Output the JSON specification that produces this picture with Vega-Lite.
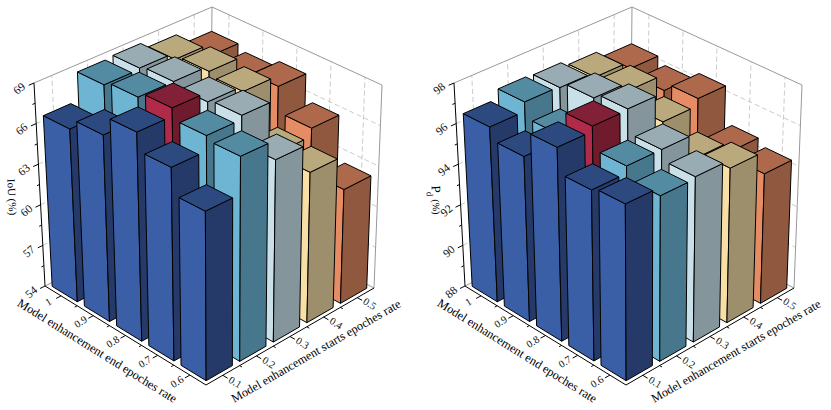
{"$schema":"https://vega.github.io/schema/vega-lite/v6.json","width":831,"height":410,"padding":0,"autosize":{"type":"fit","contains":"padding"},"background":"white","config":{"view":{"stroke":null}},
"datasets":{
"bars":[
{"panel":"IoU","end":1,"start":0.5,"value":67.4},{"panel":"IoU","end":1,"start":0.4,"value":68.3},{"panel":"IoU","end":1,"start":0.3,"value":68.8},{"panel":"IoU","end":1,"start":0.2,"value":68.7},{"panel":"IoU","end":1,"start":0.1,"value":66.6},
{"panel":"IoU","end":0.9,"start":0.5,"value":67},{"panel":"IoU","end":0.9,"start":0.4,"value":68.6},{"panel":"IoU","end":0.9,"start":0.3,"value":69},{"panel":"IoU","end":0.9,"start":0.2,"value":69},{"panel":"IoU","end":0.9,"start":0.1,"value":67.4},
{"panel":"IoU","end":0.8,"start":0.5,"value":67.5},{"panel":"IoU","end":0.8,"start":0.4,"value":68.3},{"panel":"IoU","end":0.8,"start":0.3,"value":68.7},{"panel":"IoU","end":0.8,"start":0.2,"value":69.4,"best":true},{"panel":"IoU","end":0.8,"start":0.1,"value":68.8},
{"panel":"IoU","end":0.7,"start":0.5,"value":65.6},{"panel":"IoU","end":0.7,"start":0.4,"value":65},{"panel":"IoU","end":0.7,"start":0.3,"value":68.9},{"panel":"IoU","end":0.7,"start":0.2,"value":68.6},{"panel":"IoU","end":0.7,"start":0.1,"value":67.5},
{"panel":"IoU","end":0.6,"start":0.5,"value":62.3},{"panel":"IoU","end":0.6,"start":0.4,"value":64.8},{"panel":"IoU","end":0.6,"start":0.3,"value":66.9},{"panel":"IoU","end":0.6,"start":0.2,"value":68.3},{"panel":"IoU","end":0.6,"start":0.1,"value":65.65},
{"panel":"Pd","end":1,"start":0.5,"value":96.3},{"panel":"Pd","end":1,"start":0.4,"value":96.65},{"panel":"Pd","end":1,"start":0.3,"value":96.9},{"panel":"Pd","end":1,"start":0.2,"value":96.96},{"panel":"Pd","end":1,"start":0.1,"value":96.5},
{"panel":"Pd","end":0.9,"start":0.5,"value":96},{"panel":"Pd","end":0.9,"start":0.4,"value":96.8},{"panel":"Pd","end":0.9,"start":0.3,"value":97.2},{"panel":"Pd","end":0.9,"start":0.2,"value":96.2},{"panel":"Pd","end":0.9,"start":0.1,"value":95.9},
{"panel":"Pd","end":0.8,"start":0.5,"value":96.4},{"panel":"Pd","end":0.8,"start":0.4,"value":96.05},{"panel":"Pd","end":0.8,"start":0.3,"value":97.46},{"panel":"Pd","end":0.8,"start":0.2,"value":97.4,"best":true},{"panel":"Pd","end":0.8,"start":0.1,"value":97.15},
{"panel":"Pd","end":0.7,"start":0.5,"value":94.6},{"panel":"Pd","end":0.7,"start":0.4,"value":95.1},{"panel":"Pd","end":0.7,"start":0.3,"value":96.3},{"panel":"Pd","end":0.7,"start":0.2,"value":96.3},{"panel":"Pd","end":0.7,"start":0.1,"value":95.95},
{"panel":"Pd","end":0.6,"start":0.5,"value":94.3},{"panel":"Pd","end":0.6,"start":0.4,"value":95.4},{"panel":"Pd","end":0.6,"start":0.3,"value":95.8},{"panel":"Pd","end":0.6,"start":0.2,"value":95.7},{"panel":"Pd","end":0.6,"start":0.1,"value":96.1}
],
"guides":[
{"id":"gz2","kind":"grid","A":[0,0,1],"B":[0,1,1],"Z":[0.2,0.2,0.2]},{"id":"gz4","kind":"grid","A":[0,0,1],"B":[0,1,1],"Z":[0.4,0.4,0.4]},{"id":"gz6","kind":"grid","A":[0,0,1],"B":[0,1,1],"Z":[0.6,0.6,0.6]},{"id":"gz8","kind":"grid","A":[0,0,1],"B":[0,1,1],"Z":[0.8,0.8,0.8]},
{"id":"gb1","kind":"grid","A":[0,0],"B":[0.1,0.1],"Z":[0,1]},{"id":"gb3","kind":"grid","A":[0,0],"B":[0.3,0.3],"Z":[0,1]},{"id":"gb5","kind":"grid","A":[0,0],"B":[0.5,0.5],"Z":[0,1]},{"id":"gb7","kind":"grid","A":[0,0],"B":[0.7,0.7],"Z":[0,1]},{"id":"gb9","kind":"grid","A":[0,0],"B":[0.9,0.9],"Z":[0,1]},
{"id":"ga1","kind":"grid","A":[0.1,0.1],"B":[1,1],"Z":[0,1]},{"id":"ga3","kind":"grid","A":[0.3,0.3],"B":[1,1],"Z":[0,1]},{"id":"ga5","kind":"grid","A":[0.5,0.5],"B":[1,1],"Z":[0,1]},{"id":"ga7","kind":"grid","A":[0.7,0.7],"B":[1,1],"Z":[0,1]},{"id":"ga9","kind":"grid","A":[0.9,0.9],"B":[1,1],"Z":[0,1]},
{"id":"ftop","kind":"frame","A":[0,0,1],"B":[0,1,1],"Z":[1,1,1]},{"id":"fback","kind":"frame","A":[0,0],"B":[1,1],"Z":[0,1]},{"id":"fright","kind":"frame","A":[1,1],"B":[1,1],"Z":[0,1]},{"id":"ffloor","kind":"frame","A":[0,0,1],"B":[0,1,1],"Z":[0,0,0]},
{"id":"axz","kind":"axis","A":[0,0],"B":[0,0],"Z":[0,1]},{"id":"axf","kind":"axis","A":[0,1,1],"B":[0,0,1],"Z":[0,0,0]},
{"id":"tz0","kind":"axis","A":[0,0],"B":[0,-0.03],"Z":[0,0]},{"id":"tz2","kind":"axis","A":[0,0],"B":[0,-0.03],"Z":[0.2,0.2]},{"id":"tz4","kind":"axis","A":[0,0],"B":[0,-0.03],"Z":[0.4,0.4]},{"id":"tz6","kind":"axis","A":[0,0],"B":[0,-0.03],"Z":[0.6,0.6]},{"id":"tz8","kind":"axis","A":[0,0],"B":[0,-0.03],"Z":[0.8,0.8]},{"id":"tz10","kind":"axis","A":[0,0],"B":[0,-0.03],"Z":[1,1]},
{"id":"mz1","kind":"axis","A":[0,0],"B":[0,-0.015],"Z":[0.1,0.1]},{"id":"mz3","kind":"axis","A":[0,0],"B":[0,-0.015],"Z":[0.3,0.3]},{"id":"mz5","kind":"axis","A":[0,0],"B":[0,-0.015],"Z":[0.5,0.5]},{"id":"mz7","kind":"axis","A":[0,0],"B":[0,-0.015],"Z":[0.7,0.7]},{"id":"mz9","kind":"axis","A":[0,0],"B":[0,-0.015],"Z":[0.9,0.9]},
{"id":"ta1","kind":"axis","A":[0.1,0.1],"B":[0,-0.03],"Z":[0,0]},{"id":"ta3","kind":"axis","A":[0.3,0.3],"B":[0,-0.03],"Z":[0,0]},{"id":"ta5","kind":"axis","A":[0.5,0.5],"B":[0,-0.03],"Z":[0,0]},{"id":"ta7","kind":"axis","A":[0.7,0.7],"B":[0,-0.03],"Z":[0,0]},{"id":"ta9","kind":"axis","A":[0.9,0.9],"B":[0,-0.03],"Z":[0,0]},
{"id":"ma2","kind":"axis","A":[0.2,0.2],"B":[0,-0.015],"Z":[0,0]},{"id":"ma4","kind":"axis","A":[0.4,0.4],"B":[0,-0.015],"Z":[0,0]},{"id":"ma6","kind":"axis","A":[0.6,0.6],"B":[0,-0.015],"Z":[0,0]},{"id":"ma8","kind":"axis","A":[0.8,0.8],"B":[0,-0.015],"Z":[0,0]},
{"id":"tb1","kind":"axis","A":[1,1.03],"B":[0.1,0.1],"Z":[0,0]},{"id":"tb3","kind":"axis","A":[1,1.03],"B":[0.3,0.3],"Z":[0,0]},{"id":"tb5","kind":"axis","A":[1,1.03],"B":[0.5,0.5],"Z":[0,0]},{"id":"tb7","kind":"axis","A":[1,1.03],"B":[0.7,0.7],"Z":[0,0]},{"id":"tb9","kind":"axis","A":[1,1.03],"B":[0.9,0.9],"Z":[0,0]},
{"id":"mb2","kind":"axis","A":[1,1.015],"B":[0.2,0.2],"Z":[0,0]},{"id":"mb4","kind":"axis","A":[1,1.015],"B":[0.4,0.4],"Z":[0,0]},{"id":"mb6","kind":"axis","A":[1,1.015],"B":[0.6,0.6],"Z":[0,0]},{"id":"mb8","kind":"axis","A":[1,1.015],"B":[0.8,0.8],"Z":[0,0]}
],
"zticks":[{"panel":"IoU","tick":54},{"panel":"IoU","tick":57},{"panel":"IoU","tick":60},{"panel":"IoU","tick":63},{"panel":"IoU","tick":66},{"panel":"IoU","tick":69},{"panel":"Pd","tick":88},{"panel":"Pd","tick":90},{"panel":"Pd","tick":92},{"panel":"Pd","tick":94},{"panel":"Pd","tick":96},{"panel":"Pd","tick":98}],
"endticks":[{"tick":1},{"tick":0.9},{"tick":0.8},{"tick":0.7},{"tick":0.6}],
"startticks":[{"tick":0.1},{"tick":0.2},{"tick":0.3},{"tick":0.4},{"tick":0.5}],
"ytitles":[{"panel":"IoU","text":"IoU (%)","role":"whole"},{"panel":"Pd","text":"P","role":"p"},{"panel":"Pd","text":"(%)","role":"pct"}]
},
"encoding":{"x":{"field":"px","type":"quantitative","axis":null,"scale":{"domain":[0,831],"nice":false,"zero":false}},"y":{"field":"py","type":"quantitative","axis":null,"scale":{"domain":[410,0],"nice":false,"zero":false}}},
"layer":[
{"data":{"name":"guides"},"transform":[{"filter":"datum.kind=='grid'"},{"calculate":"[0,420]","as":"dxs"},{"flatten":["dxs"],"as":["dx"]},{"flatten":["A","B","Z"]},{"window":[{"op":"row_number","as":"k"}],"groupby":["id","dx"]},
{"calculate":"datum.dx+(1-datum.Z)*((1-datum.A)*(1-datum.B)*45+datum.A*(1-datum.B)*206+datum.A*datum.B*374+(1-datum.A)*datum.B*210)+datum.Z*((1-datum.A)*(1-datum.B)*34+datum.A*(1-datum.B)*205+datum.A*datum.B*382+(1-datum.A)*datum.B*212)","as":"px"},
{"calculate":"(1-datum.Z)*((1-datum.A)*(1-datum.B)*286+datum.A*(1-datum.B)*385+datum.A*datum.B*288+(1-datum.A)*datum.B*203)+datum.Z*((1-datum.A)*(1-datum.B)*83+datum.A*(1-datum.B)*166+datum.A*datum.B*85+(1-datum.A)*datum.B*7)","as":"py"}],
"mark":{"type":"line","stroke":"#c4c4c4","strokeWidth":0.9,"strokeDash":[5,3],"clip":false},"encoding":{"detail":[{"field":"id"},{"field":"dx"}],"order":{"field":"k"}}},
{"data":{"name":"guides"},"transform":[{"filter":"datum.kind=='frame'"},{"calculate":"[0,420]","as":"dxs"},{"flatten":["dxs"],"as":["dx"]},{"flatten":["A","B","Z"]},{"window":[{"op":"row_number","as":"k"}],"groupby":["id","dx"]},
{"calculate":"datum.dx+(1-datum.Z)*((1-datum.A)*(1-datum.B)*45+datum.A*(1-datum.B)*206+datum.A*datum.B*374+(1-datum.A)*datum.B*210)+datum.Z*((1-datum.A)*(1-datum.B)*34+datum.A*(1-datum.B)*205+datum.A*datum.B*382+(1-datum.A)*datum.B*212)","as":"px"},
{"calculate":"(1-datum.Z)*((1-datum.A)*(1-datum.B)*286+datum.A*(1-datum.B)*385+datum.A*datum.B*288+(1-datum.A)*datum.B*203)+datum.Z*((1-datum.A)*(1-datum.B)*83+datum.A*(1-datum.B)*166+datum.A*datum.B*85+(1-datum.A)*datum.B*7)","as":"py"}],
"mark":{"type":"line","stroke":"#999999","strokeWidth":1},"encoding":{"detail":[{"field":"id"},{"field":"dx"}],"order":{"field":"k"}}},
{"data":{"name":"guides"},"transform":[{"filter":"datum.kind=='axis'"},{"calculate":"[0,420]","as":"dxs"},{"flatten":["dxs"],"as":["dx"]},{"flatten":["A","B","Z"]},{"window":[{"op":"row_number","as":"k"}],"groupby":["id","dx"]},
{"calculate":"datum.dx+(1-datum.Z)*((1-datum.A)*(1-datum.B)*45+datum.A*(1-datum.B)*206+datum.A*datum.B*374+(1-datum.A)*datum.B*210)+datum.Z*((1-datum.A)*(1-datum.B)*34+datum.A*(1-datum.B)*205+datum.A*datum.B*382+(1-datum.A)*datum.B*212)","as":"px"},
{"calculate":"(1-datum.Z)*((1-datum.A)*(1-datum.B)*286+datum.A*(1-datum.B)*385+datum.A*datum.B*288+(1-datum.A)*datum.B*203)+datum.Z*((1-datum.A)*(1-datum.B)*83+datum.A*(1-datum.B)*166+datum.A*datum.B*85+(1-datum.A)*datum.B*7)","as":"py"}],
"mark":{"type":"line","stroke":"#000000","strokeWidth":1},"encoding":{"detail":[{"field":"id"},{"field":"dx"}],"order":{"field":"k"}}},
{"data":{"name":"bars"},"transform":[
{"calculate":"datum.panel=='Pd'?420:0","as":"dx"},
{"calculate":"(1-datum.end)*2+0.1","as":"ac"},{"calculate":"(datum.start-0.1)*2+0.1","as":"bc"},
{"calculate":"datum.panel=='Pd'?(datum.value-88)/10:(datum.value-54)/15","as":"h"},
{"calculate":"[0,1,2]","as":"faces"},{"flatten":["faces"],"as":["face"]},
{"calculate":"[0,1,2,3,4]","as":"ks"},{"flatten":["ks"],"as":["k"]},
{"calculate":"datum.ac+0.078*[[-1,1,1,-1,-1],[1,1,1,1,1],[-1,1,1,-1,-1]][datum.face][datum.k]","as":"A"},
{"calculate":"datum.bc+0.078*[[-1,-1,-1,-1,-1],[-1,1,1,-1,-1],[-1,-1,1,1,-1]][datum.face][datum.k]","as":"B"},
{"calculate":"datum.h*[[0,0,1,1,0],[0,0,1,1,0],[1,1,1,1,1]][datum.face][datum.k]","as":"Z"},
{"calculate":"datum.dx+(1-datum.Z)*((1-datum.A)*(1-datum.B)*45+datum.A*(1-datum.B)*206+datum.A*datum.B*374+(1-datum.A)*datum.B*210)+datum.Z*((1-datum.A)*(1-datum.B)*34+datum.A*(1-datum.B)*205+datum.A*datum.B*382+(1-datum.A)*datum.B*212)","as":"px"},
{"calculate":"(1-datum.Z)*((1-datum.A)*(1-datum.B)*286+datum.A*(1-datum.B)*385+datum.A*datum.B*288+(1-datum.A)*datum.B*203)+datum.Z*((1-datum.A)*(1-datum.B)*83+datum.A*(1-datum.B)*166+datum.A*datum.B*85+(1-datum.A)*datum.B*7)","as":"py"},
{"calculate":"datum.panel+'|'+datum.end+'|'+datum.start+'|'+datum.face","as":"faceId"},
{"calculate":"(datum.best?'best':datum.start)+'-'+datum.face","as":"colorKey"}],
"mark":{"type":"line","stroke":"#000000","strokeWidth":1,"strokeJoin":"round"},
"encoding":{"detail":{"field":"faceId"},"order":{"field":"k"},"fill":{"field":"colorKey","type":"nominal","legend":null,"scale":{"domain":["0.1-0","0.1-1","0.1-2","0.2-0","0.2-1","0.2-2","0.3-0","0.3-1","0.3-2","0.4-0","0.4-1","0.4-2","0.5-0","0.5-1","0.5-2","best-0","best-1","best-2"],"range":["#3B5FA6","#263A69","#2C4A7F","#6DB5D3","#47778C","#538BA3","#C9E0E9","#84959B","#99ABB3","#F8DFA5","#9E8F6C","#BBA97E","#E68C64","#8F583F","#AE684B","#AF2B49","#701A2D","#822037"]}}}},
{"data":{"name":"zticks"},"transform":[{"calculate":"datum.panel=='Pd'?420:0","as":"dx"},{"calculate":"datum.panel=='Pd'?(datum.tick-88)/10:(datum.tick-54)/15","as":"Z"},{"calculate":"0","as":"A"},{"calculate":"-0.08","as":"B"},
{"calculate":"datum.dx+(1-datum.Z)*((1-datum.A)*(1-datum.B)*45+datum.A*(1-datum.B)*206+datum.A*datum.B*374+(1-datum.A)*datum.B*210)+datum.Z*((1-datum.A)*(1-datum.B)*34+datum.A*(1-datum.B)*205+datum.A*datum.B*382+(1-datum.A)*datum.B*212)","as":"px"},
{"calculate":"(1-datum.Z)*((1-datum.A)*(1-datum.B)*286+datum.A*(1-datum.B)*385+datum.A*datum.B*288+(1-datum.A)*datum.B*203)+datum.Z*((1-datum.A)*(1-datum.B)*83+datum.A*(1-datum.B)*166+datum.A*datum.B*85+(1-datum.A)*datum.B*7)","as":"py"}],
"mark":{"type":"text","fontSize":11.5,"font":"Liberation Serif","angle":320,"align":"center","baseline":"middle","color":"#111"},"encoding":{"text":{"field":"tick","type":"nominal"}}},
{"data":{"name":"endticks"},"transform":[{"calculate":"[0,420]","as":"dxs"},{"flatten":["dxs"],"as":["dx"]},{"calculate":"(1-datum.tick)*2+0.1","as":"A"},{"calculate":"-0.075","as":"B"},{"calculate":"0","as":"Z"},
{"calculate":"datum.dx+(1-datum.A)*(1-datum.B)*45+datum.A*(1-datum.B)*206+datum.A*datum.B*374+(1-datum.A)*datum.B*210","as":"px"},
{"calculate":"(1-datum.A)*(1-datum.B)*286+datum.A*(1-datum.B)*385+datum.A*datum.B*288+(1-datum.A)*datum.B*203","as":"py"}],
"mark":{"type":"text","fontSize":10.5,"font":"Liberation Serif","angle":328,"align":"center","baseline":"middle","color":"#111"},"encoding":{"text":{"field":"tick","type":"nominal"}}},
{"data":{"name":"startticks"},"transform":[{"calculate":"[0,420]","as":"dxs"},{"flatten":["dxs"],"as":["dx"]},{"calculate":"1.075","as":"A"},{"calculate":"(datum.tick-0.1)*2+0.1","as":"B"},
{"calculate":"datum.dx+(1-datum.A)*(1-datum.B)*45+datum.A*(1-datum.B)*206+datum.A*datum.B*374+(1-datum.A)*datum.B*210","as":"px"},
{"calculate":"(1-datum.A)*(1-datum.B)*286+datum.A*(1-datum.B)*385+datum.A*datum.B*288+(1-datum.A)*datum.B*203","as":"py"}],
"mark":{"type":"text","fontSize":10.5,"font":"Liberation Serif","angle":32,"align":"center","baseline":"middle","color":"#111"},"encoding":{"text":{"field":"tick","type":"nominal"}}},
{"data":{"values":[{"title":"Model enhancement end epoches rate"}]},"transform":[{"calculate":"[0,420]","as":"dxs"},{"flatten":["dxs"],"as":["dx"]},{"calculate":"0.5","as":"A"},{"calculate":"-0.17","as":"B"},
{"calculate":"datum.dx+(1-datum.A)*(1-datum.B)*45+datum.A*(1-datum.B)*206+datum.A*datum.B*374+(1-datum.A)*datum.B*210","as":"px"},
{"calculate":"(1-datum.A)*(1-datum.B)*286+datum.A*(1-datum.B)*385+datum.A*datum.B*288+(1-datum.A)*datum.B*203","as":"py"}],
"mark":{"type":"text","fontSize":12.3,"font":"Liberation Serif","angle":32,"align":"center","baseline":"middle","color":"#000"},"encoding":{"text":{"field":"title","type":"nominal"}}},
{"data":{"values":[{"title":"Model enhancement starts epoches rate"}]},"transform":[{"calculate":"[0,420]","as":"dxs"},{"flatten":["dxs"],"as":["dx"]},{"calculate":"1.16","as":"A"},{"calculate":"0.5","as":"B"},
{"calculate":"datum.dx+(1-datum.A)*(1-datum.B)*45+datum.A*(1-datum.B)*206+datum.A*datum.B*374+(1-datum.A)*datum.B*210","as":"px"},
{"calculate":"(1-datum.A)*(1-datum.B)*286+datum.A*(1-datum.B)*385+datum.A*datum.B*288+(1-datum.A)*datum.B*203","as":"py"}],
"mark":{"type":"text","fontSize":12.3,"font":"Liberation Serif","angle":330,"align":"center","baseline":"middle","color":"#000"},"encoding":{"text":{"field":"title","type":"nominal"}}},
{"data":{"name":"ytitles"},"transform":[{"calculate":"datum.panel=='Pd'?420:0","as":"dx"},{"calculate":"0","as":"A"},{"calculate":"datum.role=='p'?-0.137:datum.role=='pct'?-0.143:-0.165","as":"B"},{"calculate":"datum.role=='p'?0.531:datum.role=='pct'?0.446:0.503","as":"Z"},
{"calculate":"datum.dx+(1-datum.Z)*((1-datum.A)*(1-datum.B)*45+datum.A*(1-datum.B)*206+datum.A*datum.B*374+(1-datum.A)*datum.B*210)+datum.Z*((1-datum.A)*(1-datum.B)*34+datum.A*(1-datum.B)*205+datum.A*datum.B*382+(1-datum.A)*datum.B*212)","as":"px"},
{"calculate":"(1-datum.Z)*((1-datum.A)*(1-datum.B)*286+datum.A*(1-datum.B)*385+datum.A*datum.B*288+(1-datum.A)*datum.B*203)+datum.Z*((1-datum.A)*(1-datum.B)*83+datum.A*(1-datum.B)*166+datum.A*datum.B*85+(1-datum.A)*datum.B*7)","as":"py"},{"calculate":"datum.role=='p'?13:datum.role=='pct'?10:11","as":"fs"}],
"mark":{"type":"text","font":"Liberation Serif","angle":87,"align":"center","baseline":"middle","color":"#000"},"encoding":{"text":{"field":"text","type":"nominal"},"size":{"field":"fs","type":"quantitative","scale":null}}},
{"data":{"values":[{"panel":"Pd","text":"d"}]},"transform":[{"calculate":"420","as":"dx"},{"calculate":"0","as":"A"},{"calculate":"-0.173","as":"B"},{"calculate":"0.52","as":"Z"},
{"calculate":"datum.dx+(1-datum.Z)*((1-datum.A)*(1-datum.B)*45+datum.A*(1-datum.B)*206+datum.A*datum.B*374+(1-datum.A)*datum.B*210)+datum.Z*((1-datum.A)*(1-datum.B)*34+datum.A*(1-datum.B)*205+datum.A*datum.B*382+(1-datum.A)*datum.B*212)","as":"px"},
{"calculate":"(1-datum.Z)*((1-datum.A)*(1-datum.B)*286+datum.A*(1-datum.B)*385+datum.A*datum.B*288+(1-datum.A)*datum.B*203)+datum.Z*((1-datum.A)*(1-datum.B)*83+datum.A*(1-datum.B)*166+datum.A*datum.B*85+(1-datum.A)*datum.B*7)","as":"py"}],
"mark":{"type":"text","fontSize":9,"font":"Liberation Serif","angle":87,"align":"center","baseline":"middle","color":"#000"},"encoding":{"text":{"field":"text","type":"nominal"}}}
]}
